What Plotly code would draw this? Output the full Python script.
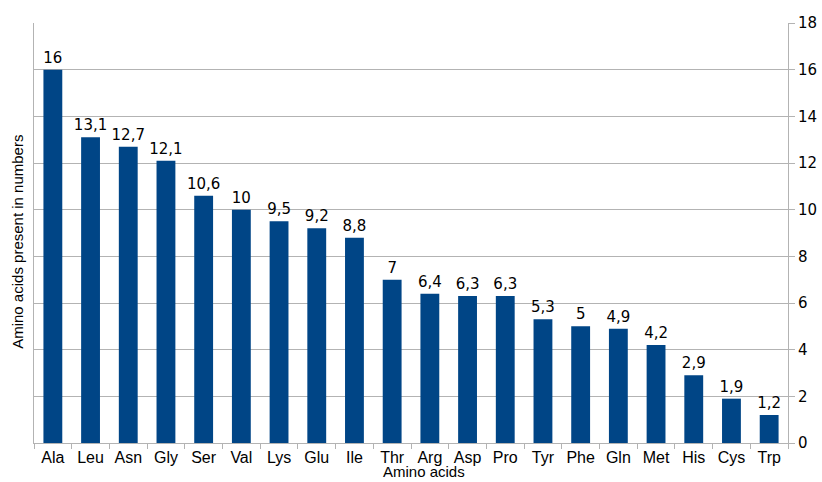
import plotly.graph_objects as go

amino_acids = ["Ala", "Leu", "Asn", "Gly", "Ser", "Val", "Lys", "Glu", "Ile", "Thr",
               "Arg", "Asp", "Pro", "Tyr", "Phe", "Gln", "Met", "His", "Cys", "Trp"]
counts = [16, 13.1, 12.7, 12.1, 10.6, 10, 9.5, 9.2, 8.8, 7,
          6.4, 6.3, 6.3, 5.3, 5, 4.9, 4.2, 2.9, 1.9, 1.2]
y_ticks = list(range(0, 19, 2))

labels = [f"{v:g}".replace(".", ",") for v in counts]

fig = go.Figure(go.Bar(
    x=amino_acids,
    y=counts,
    width=0.5,
    marker=dict(color="#004586", line=dict(width=0)),
    text=labels,
    textposition="outside",
    constraintext="none",
    textfont=dict(family="DejaVu Sans", size=15, color="#000000"),
    cliponaxis=False,
))

fig.update_layout(
    width=822, height=482,
    margin=dict(l=34, r=34, t=23, b=39, autoexpand=False),
    plot_bgcolor="white", paper_bgcolor="white",
    showlegend=False,
    xaxis=dict(
        showline=True, linecolor="#b3b3b3", linewidth=1,
        ticks="outside", tickson="boundaries", ticklen=5, tickcolor="#b3b3b3",
        tickangle=0, automargin=False,
        tickfont=dict(family="Liberation Sans", size=16, color="#000000"),
        showgrid=False,
    ),
    yaxis=dict(
        side="right", range=[0, 18], tickvals=y_ticks, automargin=False,
        showline=True, mirror=True, linecolor="#b3b3b3", linewidth=1,
        ticks="outside", ticklen=6, tickcolor="#b3b3b3",
        showgrid=True, gridcolor="#b3b3b3", gridwidth=1,
        zeroline=False,
        tickfont=dict(family="DejaVu Sans", size=15, color="#000000"),
    ),
    annotations=[
        dict(text="Amino acids", xref="paper", yref="paper", x=0.517, y=-0.0928,
             xanchor="center", yanchor="bottom", showarrow=False,
             font=dict(family="Liberation Sans", size=15, color="#000000")),
        dict(text="Amino acids present in numbers", xref="paper", yref="paper",
             x=-0.022, y=0.48, textangle=-90, xanchor="center", yanchor="middle",
             showarrow=False,
             font=dict(family="Liberation Sans", size=15, color="#000000")),
    ],
)

fig.write_html("out.html")
